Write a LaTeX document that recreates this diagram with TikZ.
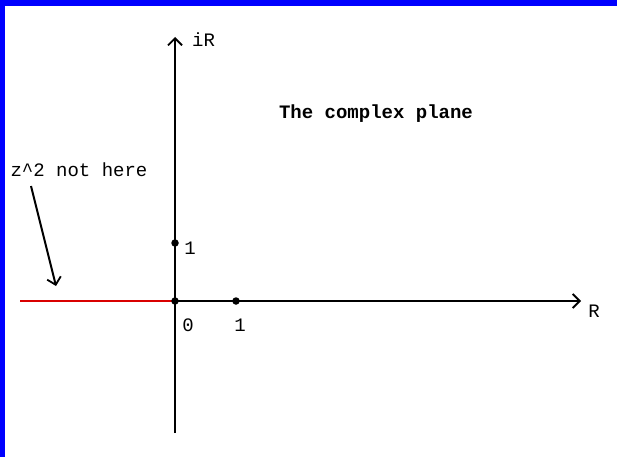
\documentclass[tikz,border=0pt]{standalone}
\usepackage{fontspec}
\setmonofont{Liberation Mono}
\usetikzlibrary{arrows.meta}
\begin{document}
\begin{tikzpicture}[x=1pt,y=-1pt,
  axis/.style={line width=2.2pt,-{Straight Barb[length=7pt,width=14pt,line width=1.8pt]}},
  lbl/.style={font=\fontsize{19}{21}\selectfont\ttfamily,inner sep=0pt},
  dot/.style={circle,fill=black,inner sep=0pt,minimum size=7.5pt}]
\useasboundingbox (0,0) rectangle (617,457);
\fill[white] (0,0) rectangle (617,457);
\fill[blue] (0,0) rectangle (617,6);
\fill[blue] (0,0) rectangle (5,457);
% axes
\coordinate (ybot) at (175,433);
\coordinate (ytop) at (175,37);
\coordinate (xend) at (581,301);
\coordinate (redstart) at (20,301);
\coordinate (oc) at (175,301);
\draw[red!85!black,line width=2.6pt] (redstart) -- (oc);
\draw[axis] (ybot) -- (ytop);
\draw[axis] (oc) -- (xend);
\node[dot] (o) at (oc) {};
\node[dot] (i1) at (175,243) {};
\node[dot] (r1) at (236,301) {};
% labels
\node[lbl,anchor=west] (iR) at (192,40) {iR};
\node[lbl] (R) at (594,311) {R};
\node[lbl] (l0) at (188,325) {0};
\node[lbl] (l1x) at (240,325) {1};
\node[lbl] (l1y) at (190,248) {1};
\node[lbl,font=\fontsize{19}{21}\selectfont\ttfamily\bfseries] (title) at (376,114) {The complex plane};
\node[lbl] (note) at (79,170) {z\^{}2 not here};
\coordinate (noteend) at (56,286);
\draw[line width=2pt,-{Straight Barb[length=7pt,width=14pt,line width=1.8pt]}] (31,186) -- (noteend);
\end{tikzpicture}
\end{document}
